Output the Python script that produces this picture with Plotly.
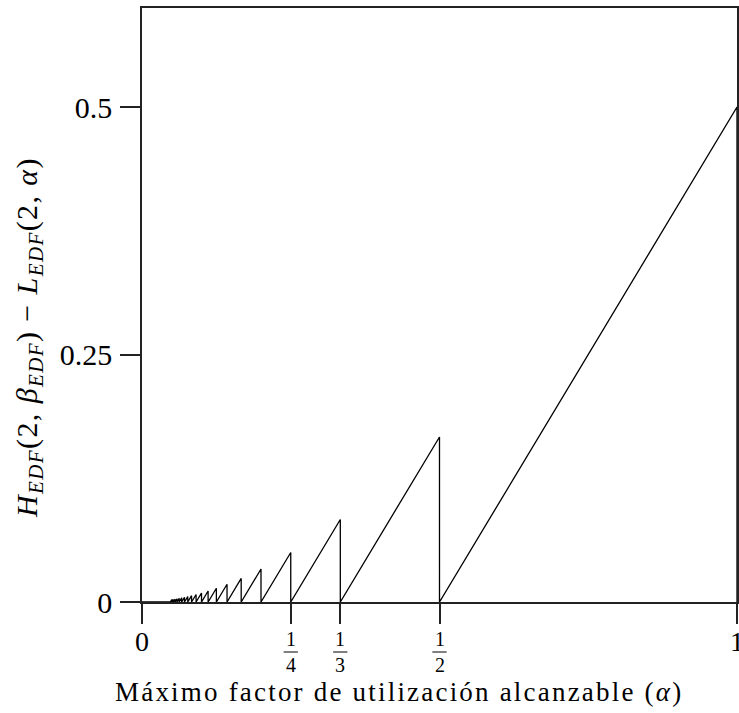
import plotly.graph_objects as go

# Sawtooth: each tooth rises from 0 at its left edge to its peak at its right edge, then drops to 0
tooth_right = [1.0, 0.5, 0.3333, 0.25, 0.2, 0.1667, 0.1429, 0.125, 0.1111, 0.1,
               0.0909, 0.0833, 0.0769, 0.0714, 0.0667, 0.0625, 0.0588, 0.0556, 0.0526, 0.05]
tooth_left = [0.5, 0.3333, 0.25, 0.2, 0.1667, 0.1429, 0.125, 0.1111, 0.1, 0.0909,
              0.0833, 0.0769, 0.0714, 0.0667, 0.0625, 0.0588, 0.0556, 0.0526, 0.05, 0.0476]
tooth_peak = [0.5, 0.1667, 0.0833, 0.05, 0.0333, 0.0238, 0.0179, 0.0139, 0.0111, 0.0091,
              0.0076, 0.0064, 0.0055, 0.0048, 0.0042, 0.0037, 0.0033, 0.0029, 0.0026, 0.0024]

x_tickvals = [0, 0.25, 0.3333, 0.5, 1]
x_num = ["0", "1", "1", "1", "1"]
x_den = [None, "4", "3", "2", None]
y_tickvals = [0, 0.25, 0.5]
y_ticktext = ["0", "0.25", "0.5"]

x_title = "Máximo factor de utilización alcanzable (<i>α</i>)"
y_title = ("<i>H</i><sub><i>EDF</i></sub>(2, <i>β</i><sub><i>EDF</i></sub>)"
           " − <i>L</i><sub><i>EDF</i></sub>(2, <i>α</i>)")

xs, ys = [0.0], [0.0]
for left, right, peak in reversed(list(zip(tooth_left, tooth_right, tooth_peak))):
    xs += [left, right, right]
    ys += [0.0, peak, 0.0]

FONT = "Liberation Serif"
fig = go.Figure()
fig.add_trace(go.Scatter(x=xs, y=ys, mode="lines",
                         line=dict(color="black", width=1.3), hoverinfo="skip"))

ticktext = [n if d is None else "" for n, d in zip(x_num, x_den)]

fig.update_layout(
    width=739, height=713,
    margin=dict(l=142, r=2, t=8, b=111),
    paper_bgcolor="white", plot_bgcolor="white",
    showlegend=False,
    font=dict(family=FONT, color="black", size=30),
    xaxis=dict(range=[0, 1], tickvals=x_tickvals, ticktext=ticktext,
               ticks="outside", ticklen=20, tickwidth=1.5, tickcolor="#222",
               showline=True, linecolor="#222", linewidth=1.5, mirror=True,
               showgrid=False, zeroline=False, automargin=False,
               ticklabeloverflow="allow", ticklabelstandoff=-6,
               tickfont=dict(family=FONT, size=28)),
    yaxis=dict(range=[0, 0.6], tickvals=y_tickvals, ticktext=y_ticktext,
               ticks="outside", ticklen=20, tickwidth=1.5, tickcolor="#222",
               showline=True, linecolor="#222", linewidth=1.5, mirror=True,
               showgrid=False, zeroline=False, automargin=False,
               ticklabelstandoff=2,
               tickfont=dict(family=FONT, size=30)),
)

# fractional tick labels (numerator above the bar, denominator below)
BAR_Y = -0.0842
for v, n, d in zip(x_tickvals, x_num, x_den):
    if d is None:
        continue
    fig.add_annotation(x=v, xref="x", y=BAR_Y + 0.002, yref="paper", text=n, showarrow=False,
                       font=dict(family=FONT, size=20), xanchor="center", yanchor="bottom",
                       borderpad=0)
    fig.add_annotation(x=v, xref="x", y=BAR_Y - 0.002, yref="paper", text=d, showarrow=False,
                       font=dict(family=FONT, size=20), xanchor="center", yanchor="top",
                       borderpad=0)
    fig.add_shape(type="line", xref="x", yref="paper",
                  x0=v - 0.012, x1=v + 0.012, y0=BAR_Y, y1=BAR_Y,
                  line=dict(color="black", width=1))

# axis titles
fig.add_annotation(x=0.432, xref="paper", y=-0.1515, yref="paper", showarrow=False,
                   text=f"<span style='letter-spacing:2.2px'>{x_title}</span>",
                   font=dict(family=FONT, size=27), xanchor="center", yanchor="middle")
fig.add_annotation(x=-0.19, xref="paper", y=0.446, yref="paper", showarrow=False,
                   text=f"<span style='letter-spacing:1.4px'>{y_title}</span>", textangle=-90,
                   font=dict(family=FONT, size=30), xanchor="center", yanchor="middle")

fig.write_html("out.html")
